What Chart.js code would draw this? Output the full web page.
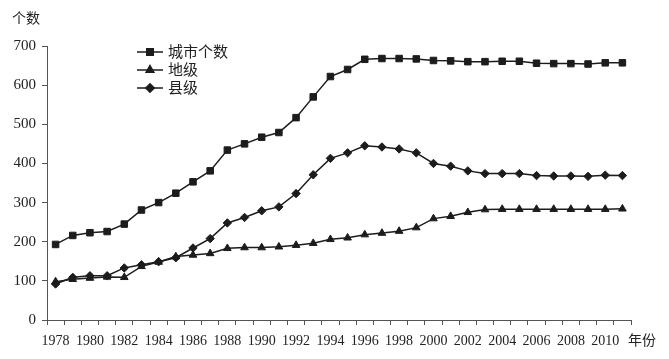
<!DOCTYPE html>
<html>
<head>
<meta charset="utf-8">
<script src="https://cdn.jsdelivr.net/npm/chart.js@4"></script>
<style>
  html, body { margin: 0; padding: 0; background: #fff; }
  #wrap { width: 669px; height: 359px; position: relative; }
</style>
</head>
<body>
<div id="wrap"><canvas id="cityChart"></canvas></div>
<script>
const years = [];
for (let y = 1978; y <= 2011; y++) years.push(String(y));

const cityTotal = [193, 216, 223, 226, 245, 281, 300, 324, 353, 381, 434, 450, 467, 479, 517, 570, 622,
    640, 666, 668, 668, 667, 663, 662, 660, 660, 661, 661, 656, 655, 655, 654, 657, 657];
const prefLevel = [98, 104, 107, 110, 109, 137, 148, 162, 166, 170, 183, 185, 185, 187, 191, 196, 206,
    210, 218, 222, 227, 236, 259, 265, 275, 282, 283, 283, 283, 283, 283, 283, 283, 284];
const countyLevel = [92, 109, 113, 113, 133, 141, 149, 159, 184, 208, 248, 262, 279, 289, 323, 371, 413,
    427, 445, 442, 437, 427, 400, 393, 381, 374, 374, 374, 369, 368, 368, 367, 370, 369];

const seriesNames = ['城市个数', '地级', '县级'];
const yTicks = [0, 100, 200, 300, 400, 500, 600, 700];

const FONT = '"Liberation Serif", "Noto Sans CJK SC", serif';
const INK = '#1c1c1c';

// legend with line + marker, drawn inside the plot
const innerLegend = {
    id: 'innerLegend',
    afterDraw(chart) {
        const ctx = chart.ctx;
        ctx.save();
        chart.data.datasets.forEach((ds, i) => {
            const y = 52 + i * 18;
            ctx.strokeStyle = INK;
            ctx.lineWidth = 1.5;
            ctx.beginPath();
            ctx.moveTo(137, y);
            ctx.lineTo(163, y);
            ctx.stroke();
            ctx.fillStyle = INK;
            Chart.helpers.drawPoint(ctx, {
                pointStyle: ds.pointStyle,
                radius: ds.pointRadius,
                borderWidth: 1
            }, 150, y);
            ctx.fillStyle = '#222';
            ctx.font = '15px ' + FONT;
            ctx.textBaseline = 'middle';
            ctx.textAlign = 'left';
            ctx.fillText(ds.label, 168, y + 1);
        });
        // axis titles
        ctx.font = '14px ' + FONT;
        ctx.fillStyle = '#222';
        ctx.textBaseline = 'middle';
        ctx.fillText('个数', 12, 19);
        ctx.fillText('年份', 628, 341);
        ctx.restore();
    }
};

function makeSet(label, data, style, r) {
    return {
        label: label,
        data: data,
        borderColor: INK,
        backgroundColor: INK,
        borderWidth: 1.5,
        pointStyle: style,
        pointRadius: r,
        pointBorderWidth: 1,
        pointBorderColor: INK,
        pointBackgroundColor: INK,
        tension: 0,
        fill: false
    };
}

const ctx = document.getElementById('cityChart').getContext('2d');
new Chart(ctx, {
    type: 'line',
    data: {
        labels: years,
        datasets: [
            makeSet(seriesNames[0], cityTotal, 'rect', 4.6),
            makeSet(seriesNames[1], prefLevel, 'triangle', 4.4),
            makeSet(seriesNames[2], countyLevel, 'rectRot', 4.2)
        ]
    },
    options: {
        responsive: true,
        maintainAspectRatio: false,
        animation: false,
        layout: { padding: { top: 46, right: 38, left: 0, bottom: 0 } },
        plugins: {
            legend: { display: false },
            tooltip: { enabled: false }
        },
        scales: {
            x: {
                offset: true,
                grid: {
                    offset: true,
                    drawOnChartArea: false,
                    drawTicks: true,
                    tickLength: 5,
                    color: '#555'
                },
                border: { color: '#555', width: 1 },
                ticks: {
                    autoSkip: false,
                    maxRotation: 0,
                    padding: 8,
                    color: '#222',
                    font: { family: FONT, size: 14 },
                    callback: function (val, idx) {
                        return idx % 2 === 0 ? this.getLabelForValue(val) : '';
                    }
                },
                afterFit: s => { s.height = 39; }
            },
            y: {
                min: 0,
                max: 700,
                afterBuildTicks: s => { s.ticks = yTicks.map(v => ({ value: v })); },
                grid: {
                    drawOnChartArea: false,
                    drawTicks: true,
                    tickLength: 5,
                    color: '#555'
                },
                border: { color: '#555', width: 1 },
                ticks: {
                    padding: 6,
                    color: '#222',
                    font: { family: FONT, size: 15 }
                },
                afterFit: s => { s.width = 47; }
            }
        }
    },
    plugins: [innerLegend]
});
</script>
</body>
</html>
